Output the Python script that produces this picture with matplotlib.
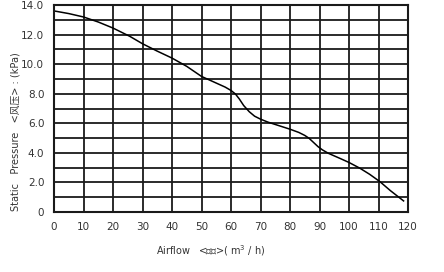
import matplotlib
matplotlib.use("Agg")
import matplotlib.pyplot as plt
from matplotlib import font_manager

# courbe debit / pression
debit = [0, 5, 10, 15, 20, 25.7, 30, 35, 40, 45, 50, 55, 58, 60, 61.5, 62.8, 64.3, 66.2, 68, 70, 72.5, 75, 80, 83, 85, 86.5, 88, 89.5, 91, 93, 97, 100, 103.7, 107, 110.5, 114, 118.5]
pression = [13.6, 13.42, 13.19, 12.85, 12.44, 11.88, 11.38, 10.88, 10.41, 9.85, 9.17, 8.72, 8.45, 8.22, 7.98, 7.65, 7.2, 6.78, 6.48, 6.28, 6.08, 5.92, 5.6, 5.38, 5.18, 4.98, 4.7, 4.42, 4.2, 3.97, 3.62, 3.35, 2.96, 2.55, 2.05, 1.45, 0.75]

x_ticks = list(range(0, 121, 10))
y_ticks = [0, 2, 4, 6, 8, 10, 12, 14]
y_labels = ["0", "2.0", "4.0", "6.0", "8.0", "10.0", "12.0", "14.0"]

noms = {f.name for f in font_manager.fontManager.ttflist}
narrow = "Liberation Sans Narrow" if "Liberation Sans Narrow" in noms else "DejaVu Sans"
plt.rcParams["font.family"] = [narrow, "Noto Sans CJK SC", "DejaVu Sans"]

fig = plt.figure(figsize=(4.44, 2.72), dpi=100)
ax = fig.add_axes([54 / 444, 1 - 212 / 272, 354 / 444, 207 / 272])

ax.plot(debit, pression, color="black", lw=1.1, solid_joinstyle="round")

ax.set_xlim(0, 120)
ax.set_ylim(0, 14)
ax.set_xticks(x_ticks)
ax.set_yticks(y_ticks)
ax.set_yticks(range(0, 15), minor=True)
ax.set_yticklabels(y_labels)
ax.grid(True, which="both", color="#1a1a1a", lw=1.3)
ax.tick_params(which="both", length=0, labelsize=7.5, colors="#333333", pad=7)
for s in ax.spines.values():
    s.set_linewidth(1.5)
    s.set_color("#1a1a1a")

fig.text(15 / 444, 1 - 132 / 272, "Static   Pressure   <风压> : (kPa)", rotation=90,
         ha="center", va="center", fontsize=7, color="#333333",
         family=[narrow, "Noto Sans CJK SC", "DejaVu Sans"])
fig.text(211 / 444, 1 - 251 / 272, "Airflow   <流量>( m$^3$ / h)",
         ha="center", va="center", fontsize=7, color="#333333",
         family=[narrow, "Noto Sans CJK SC", "DejaVu Sans"])

fig.savefig("out.png", dpi=100)
